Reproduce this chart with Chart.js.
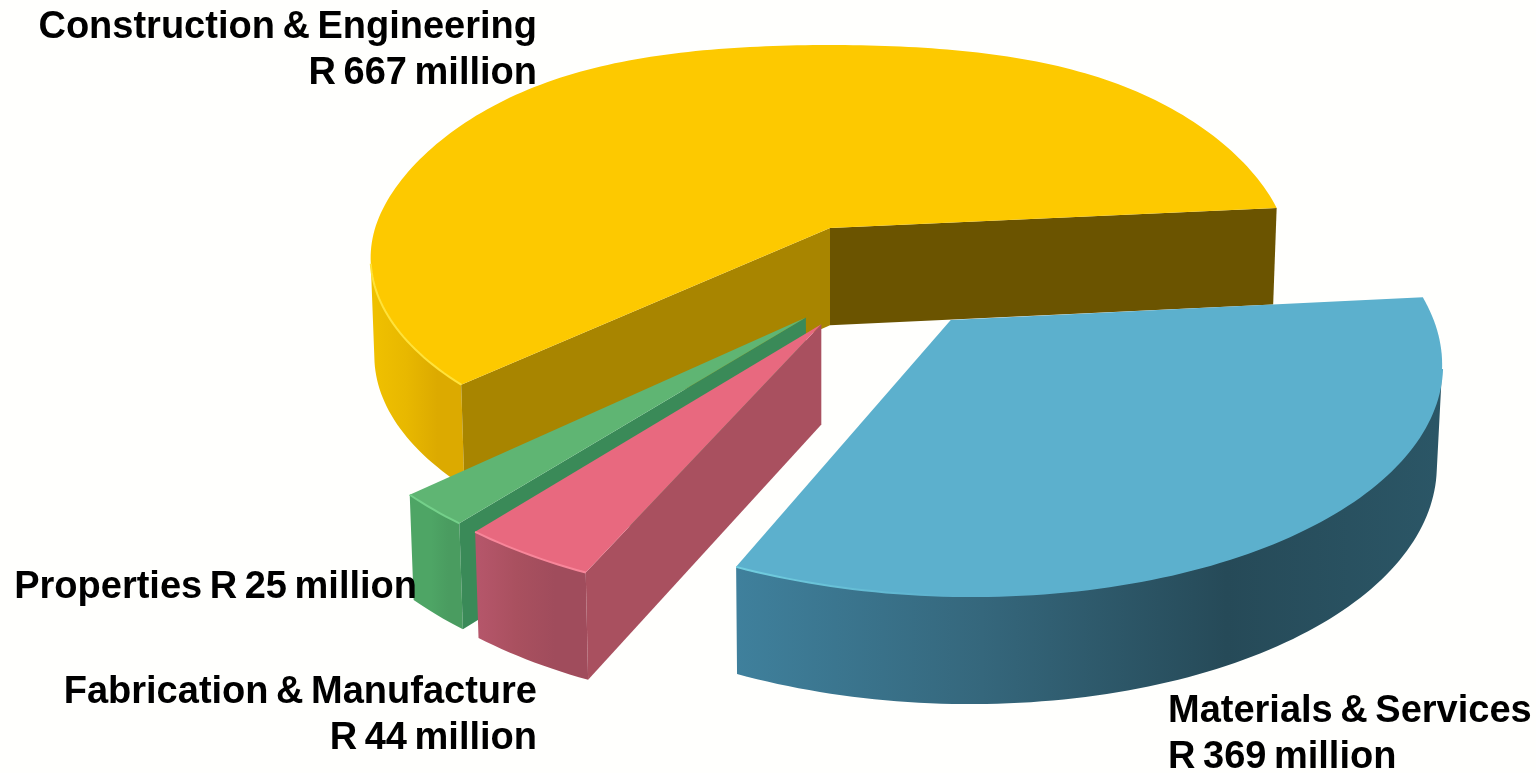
<!DOCTYPE html>
<html>
<head>
<meta charset="utf-8">
<title>Revenue by division</title>
<script src="https://cdn.jsdelivr.net/npm/chart.js@4"></script>
<style>
  html, body { margin: 0; padding: 0; background: #fffffd; overflow: hidden; }
  #wrap { width: 1536px; height: 773px; }
</style>
</head>
<body>
<div id="wrap"><canvas id="pieChart"></canvas></div>
<script>
// divisions, clockwise from the right hand edge
const categories = ['Materials & Services', 'Fabrication & Manufacture', 'Properties', 'Construction & Engineering']
const revenue = [369, 44, 25, 667]

const topColors = ['#5cb0cd', '#e8697f', '#5fb573', '#fdc900']
const rimColors = ['#72cfe0', '#f8869a', '#74d08a', '#ffe23a']
const rimFade = [0.3, 1, 1, 1]
const startCutColors = ['#3f7f9c', '#a9505f', '#3a8a58', '#a88500']
const endCutColors = ['#3f7f9c', '#a9505f', '#3a8a58', '#6b5400']
const wallStops = [
    ['#3f809c', '#35677c', '#264a58', '#2b5666'],
    ['#b5566a', '#a9505f', '#a04c5c', '#a04c5c'],
    ['#4ea565', '#4ea565', '#4a9c60', '#4a9c60'],
    ['#efc000', '#e8b800', '#dcaa00', '#dcaa00']
]

// how far each slice is pulled off the middle, in radii of the disc
const shiftX = [0.25, -0.018, -0.05, 0]
const shiftY = [0.415, 0.433, 0.405, 0]

// camera: width, depth, thickness, perspective
const kx = 1.995, ky = 0.915, kz = 0.429, persp = 0.14, sink = 0.008
const backBulge = 0.2

// label text anchors, same order as categories
const labelX = [1168, 537, 417, 537]
const labelY = [712, 693, 588, 28]
const labelAlign = ['left', 'right', 'right', 'right']
const labelGap = 46

const project = (arc, ux, uy, z) => {
    const s = 1 / (1 - persp * uy + sink * z)
    const lift = 1 + (s - 1) * 0.6
    return [arc.x + arc.outerRadius * kx * ux * s, arc.y + arc.outerRadius * (ky * uy * s + kz * z * lift)]
}

const fillPoly = (ctx, pts, color) => {
    ctx.beginPath()
    pts.forEach((p, i) => i ? ctx.lineTo(p[0], p[1]) : ctx.moveTo(p[0], p[1]))
    ctx.closePath()
    ctx.fillStyle = color
    ctx.fill()
}

const polyArea = pts => pts.reduce((sum, p, i) => {
    const q = pts[(i + 1) % pts.length]
    return sum + p[0] * q[1] - q[0] * p[1]
}, 0)

class Pie3dController extends Chart.PieController {
    draw() {
        const ctx = this.chart.ctx
        const arcs = this.getMeta().data
        // back slice first, then the ones standing in front of it
        const order = [3, 2, 1, 0]
        order.forEach(i => this.drawSlice(ctx, arcs[i], i))
    }

    drawSlice(ctx, arc, i) {
        const sx = shiftX[i], sy = shiftY[i]
        const at = (angle, z) => {
            const c = Math.cos(angle), n = Math.sin(angle)
            // the far rim sits a bit fuller than a plain ellipse
            const rimY = n < 0 ? n - backBulge * c * c * n * n : n
            return project(arc, sx + c, sy + rimY, z)
        }
        const apex = z => project(arc, sx, sy, z)
        const steps = Math.max(4, Math.ceil((arc.endAngle - arc.startAngle) / 0.02))
        const angles = []
        for (let n = 0; n <= steps; n++) angles.push(arc.startAngle + (arc.endAngle - arc.startAngle) * n / steps)

        // outer wall, only the part turned towards the camera
        const front = angles.filter((a, n) => {
            const b = angles[n + 1] ?? a + 0.001
            return polyArea([at(a, 0), at(b, 0), at(b, 1), at(a, 1)]) < 0
        })
        if (front.length > 1) {
            const xs = front.map(a => at(a, 1)[0])
            const grad = ctx.createLinearGradient(Math.min(...xs), 0, Math.max(...xs), 0)
            wallStops[i].forEach((c, n) => grad.addColorStop([0, 0.35, 0.7, 1][n], c))
            const wall = front.map(a => at(a, 0)).concat(front.slice().reverse().map(a => at(a, 1)))
            fillPoly(ctx, wall, grad)
        }

        // the two flat cuts
        const startQuad = [apex(0), at(arc.startAngle, 0), at(arc.startAngle, 1), apex(1)]
        const endQuad = [apex(0), at(arc.endAngle, 0), at(arc.endAngle, 1), apex(1)]
        if (polyArea(startQuad) < 0) fillPoly(ctx, startQuad, startCutColors[i])
        if (polyArea(endQuad) > 0) fillPoly(ctx, endQuad, endCutColors[i])

        // top face and the bright bevel along its front edge
        fillPoly(ctx, [apex(0)].concat(angles.map(a => at(a, 0))), arc.options.backgroundColor)
        if (front.length > 1) {
            const xs = front.map(a => at(a, 0)[0])
            const rim = ctx.createLinearGradient(Math.min(...xs), 0, Math.max(...xs), 0)
            rim.addColorStop(0, rimColors[i])
            rim.addColorStop(rimFade[i], rimFade[i] < 1 ? arc.options.backgroundColor : rimColors[i])
            rim.addColorStop(1, rimFade[i] < 1 ? arc.options.backgroundColor : rimColors[i])
            ctx.beginPath()
            front.forEach((a, n) => {
                const p = at(a, 0)
                n ? ctx.lineTo(p[0], p[1]) : ctx.moveTo(p[0], p[1])
            })
            ctx.strokeStyle = rim
            ctx.lineWidth = 2
            ctx.stroke()
        }
    }
}
Pie3dController.id = 'pie3d'
Pie3dController.defaults = {}
Chart.register(Pie3dController)

const sliceLabels = {
    id: 'sliceLabels',
    afterDraw(chart) {
        const ctx = chart.ctx
        ctx.save()
        ctx.fillStyle = '#000'
        ctx.font = 'bold 38px "Liberation Sans", Arial, sans-serif'
        ctx.wordSpacing = '-3px'
        ctx.textBaseline = 'middle'
        categories.forEach((name, i) => {
            const money = `R ${revenue[i]} million`
            ctx.textAlign = labelAlign[i]
            if (name === 'Properties') {
                ctx.fillText(`${name} ${money}`, labelX[i], labelY[i])
            } else {
                ctx.fillText(name, labelX[i], labelY[i])
                ctx.fillText(money, labelX[i], labelY[i] + labelGap)
            }
        })
        ctx.restore()
    }
}

new Chart('pieChart', {
    type: 'pie3d',
    data: {
        labels: categories,
        datasets: [{ data: revenue, backgroundColor: topColors, borderWidth: 0 }]
    },
    options: {
        responsive: true,
        maintainAspectRatio: false,
        animation: false,
        rotation: 84.5,
        layout: { padding: { left: 124, bottom: 317 } },
        plugins: { legend: { display: false }, tooltip: { enabled: false } }
    },
    plugins: [sliceLabels]
})
</script>
</body>
</html>
